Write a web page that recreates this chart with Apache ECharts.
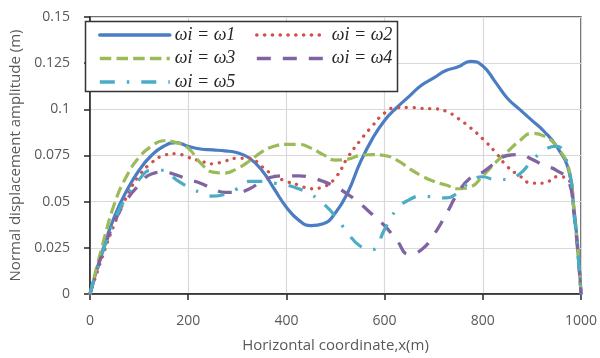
<!DOCTYPE html>
<html>
<head>
<meta charset="utf-8">
<script src="https://cdn.jsdelivr.net/npm/echarts@6/dist/echarts.min.js"></script>
<style>html,body{margin:0;padding:0;background:#fff;}#c{width:600px;height:358px;}</style>
</head>
<body>
<div id="c"></div>
<script>
var xValues = [0,25,50,75,100,125,150,175,200,225,250,275,300,325,350,375,400,425,450,475,500,525,550,575,600,625,650,675,700,725,750,775,800,825,850,875,900,925,950,975,985,995,1000];
var w1 = [0,0.023,0.042,0.056,0.067,0.075,0.080,0.082,0.080,0.0785,0.078,0.0775,0.0765,0.0735,0.067,0.057,0.047,0.040,0.037,0.038,0.044,0.055,0.071,0.084,0.094,0.101,0.107,0.113,0.117,0.121,0.123,0.126,0.1235,0.115,0.106,0.100,0.094,0.088,0.080,0.067,0.048,0.020,0];
var w2 = [0,0.020,0.038,0.053,0.064,0.071,0.075,0.076,0.074,0.072,0.0705,0.072,0.0735,0.0735,0.069,0.064,0.061,0.059,0.057,0.058,0.063,0.074,0.083,0.091,0.098,0.101,0.101,0.1005,0.1003,0.099,0.095,0.090,0.084,0.077,0.069,0.064,0.060,0.060,0.0635,0.062,0.045,0.018,0];
var w3 = [0,0.026,0.049,0.064,0.074,0.080,0.083,0.082,0.079,0.071,0.066,0.0655,0.068,0.072,0.077,0.080,0.081,0.081,0.079,0.0755,0.0725,0.073,0.075,0.0755,0.075,0.0725,0.068,0.064,0.061,0.059,0.057,0.058,0.064,0.071,0.077,0.083,0.087,0.0855,0.080,0.068,0.047,0.019,0];
var w4 = [0,0.022,0.039,0.051,0.059,0.065,0.066,0.0645,0.062,0.060,0.057,0.055,0.055,0.057,0.061,0.0635,0.064,0.064,0.063,0.061,0.058,0.054,0.049,0.043,0.037,0.029,0.0215,0.024,0.032,0.043,0.055,0.063,0.066,0.071,0.075,0.0755,0.073,0.0695,0.067,0.061,0.045,0.018,0];
var w5 = [0,0.022,0.040,0.053,0.062,0.067,0.067,0.062,0.058,0.055,0.053,0.054,0.057,0.061,0.061,0.060,0.059,0.057,0.054,0.049,0.042,0.033,0.026,0.024,0.035,0.046,0.051,0.053,0.0525,0.052,0.055,0.061,0.0635,0.062,0.062,0.065,0.072,0.078,0.080,0.067,0.046,0.018,0];
var seriesNames = ['ωi = ω1','ωi = ω2','ωi = ω3','ωi = ω4','ωi = ω5'];
var xTicks = [0,200,400,600,800,1000];
var yTicks = [0,0.025,0.05,0.075,0.1,0.125,0.15];

function pairs(ys){ return xValues.map(function(x,i){ return [x, ys[i]]; }); }

var styles = [
  {color:'#4A7DC2', width:3.2, type:'solid', cap:'round'},
  {color:'#D0504D', width:3.3, type:[0.1,7.7], cap:'round'},
  {color:'#9BBB59', width:3.2, type:[11.5,5.2], cap:'butt'},
  {color:'#8064A2', width:3.3, type:[14,12], cap:'butt'},
  {color:'#4BACC6', width:3.2, type:[15,12,2.5,12], cap:'butt'}
];
var dataSets = [w1,w2,w3,w4,w5];
var series = dataSets.map(function(d,i){
  var s = styles[i];
  return {
    name: seriesNames[i], type:'line', data: pairs(d), smooth:0.5,
    symbol:'none', showSymbol:false, z:2,
    lineStyle:{color:s.color, width:s.width, type:s.type, cap:s.cap},
    itemStyle:{color:s.color}
  };
});

var axisFont = {color:'#595959', fontSize:14, fontFamily:'Open Sans'};
function legendCfg(names, left){
  return {data:names, left:left, top:24, orient:'vertical', padding:0,
    itemWidth:70, itemHeight:14, itemGap:1.5, z:10,
    lineStyle:{width:3.6},
    itemStyle:{color:'rgba(0,0,0,0)', borderWidth:0, borderColor:'rgba(0,0,0,0)'},
    textStyle:{fontFamily:'Liberation Serif', fontStyle:'italic', fontSize:18, color:'#262626', lineHeight:22}};
}

var chart = echarts.init(document.getElementById('c'), null, {renderer:'canvas'});
chart.setOption({
  animation:false,
  backgroundColor:'#fff',
  grid:{left:90, right:19, top:17, bottom:62, show:true, borderColor:'#404040', borderWidth:1.5, backgroundColor:'transparent'},
  xAxis:{
    type:'value', min:0, max:1000, interval:200,
    name:'Horizontal coordinate,x(m)', nameLocation:'middle', nameGap:44,
    nameTextStyle:{color:'#595959', fontSize:15, fontFamily:'Open Sans'},
    axisLine:{show:true, lineStyle:{color:'#262626', width:1.5}},
    axisTick:{show:true, inside:false, length:6, lineStyle:{color:'#262626', width:1.5}},
    axisLabel:Object.assign({margin:20, formatter:function(v){return xTicks.indexOf(v)>=0?String(v):'';}}, axisFont),
    splitLine:{show:true, lineStyle:{color:'#d9d9d9', width:1.2}}
  },
  yAxis:{
    type:'value', min:0, max:0.15, interval:0.025,
    name:'Normal displacement amplitude (m)', nameLocation:'middle', nameGap:66,
    nameTextStyle:{color:'#595959', fontSize:15, fontFamily:'Open Sans'},
    axisLine:{show:true, lineStyle:{color:'#262626', width:1.5}},
    axisTick:{show:true, inside:false, length:6, lineStyle:{color:'#262626', width:1.5}},
    axisLabel:Object.assign({margin:20, formatter:function(v){
      for (var i=0;i<yTicks.length;i++){ if (Math.abs(yTicks[i]-v)<1e-9) return String(yTicks[i]); }
      return '';
    }}, axisFont),
    splitLine:{show:true, lineStyle:{color:'#d9d9d9', width:1.2}}
  },
  legend:[
    legendCfg([seriesNames[0],seriesNames[2],seriesNames[4]], 98),
    legendCfg([seriesNames[1],seriesNames[3]], 255)
  ],
  graphic:[{type:'rect', z:5, shape:{x:85.5, y:21.5, width:312, height:70},
            style:{fill:'#fff', stroke:'#333', lineWidth:1.5}}],
  series:series
});
</script>
</body>
</html>
